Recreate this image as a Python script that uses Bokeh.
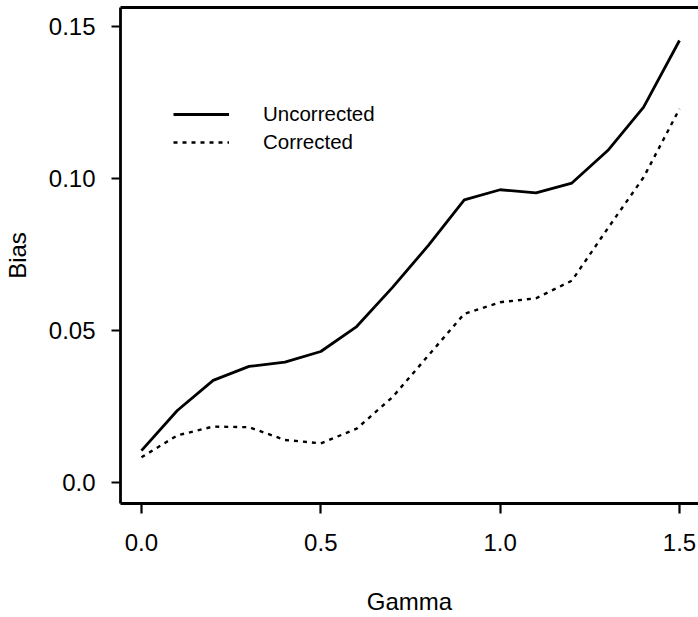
from bokeh.plotting import figure
from bokeh.models import Range1d, FixedTicker, Legend, LegendItem, LinearAxis
from bokeh.embed import file_html
from bokeh.resources import INLINE

# ---- data ----
gamma = [0.0, 0.1, 0.2, 0.3, 0.4, 0.5, 0.6, 0.7, 0.8, 0.9, 1.0, 1.1, 1.2, 1.3, 1.4, 1.5]
uncorrected = [0.0104, 0.0236, 0.0335, 0.0381, 0.0395, 0.0430, 0.0512, 0.0641,
               0.0779, 0.0929, 0.0962, 0.0952, 0.0984, 0.1091, 0.1234, 0.1453]
corrected = [0.0082, 0.0154, 0.0183, 0.0181, 0.0139, 0.0128, 0.0176, 0.0280,
             0.0417, 0.0554, 0.0592, 0.0605, 0.0663, 0.0835, 0.1003, 0.1228]

x_ticks = [0.0, 0.5, 1.0, 1.5]
x_tick_labels = ["0.0", "0.5", "1.0", "1.5"]
y_ticks = [0.0, 0.05, 0.10, 0.15]
y_tick_labels = ["0.0", "0.05", "0.10", "0.15"]

series_names = ["Uncorrected", "Corrected"]
x_title = "Gamma"
y_title = "Bias"

FONT = "Liberation Sans"
X_START, X_END = -0.0584, 1.553
Y_START, Y_END = -0.0070, 0.15615

p = figure(width=698, height=617,
           x_range=Range1d(X_START, X_END), y_range=Range1d(Y_START, Y_END),
           output_backend="svg", toolbar_location=None,
           min_border_left=119, min_border_right=0, min_border_top=7, min_border_bottom=114)
p.grid.visible = False
p.outline_line_color = None
p.background_fill_color = "white"
p.border_fill_color = "white"

r1 = p.line(gamma, uncorrected, line_color="black", line_width=2.8)
r2 = p.line(gamma, corrected, line_color="black", line_width=2.4, line_dash="4 5")

# axes
for ax in (p.xaxis[0], p.yaxis[0]):
    ax.axis_line_color = "black"
    ax.axis_line_width = 2.8
    ax.major_tick_line_color = "black"
    ax.major_tick_line_width = 2.2
    ax.major_tick_in = 0
    ax.minor_tick_in = 0
    ax.minor_tick_out = 0
    ax.major_label_text_font = FONT
    ax.major_label_text_font_size = "24px"
    ax.major_label_text_color = "black"
    ax.axis_label_text_font = FONT
    ax.axis_label_text_font_size = "24px"
    ax.axis_label_text_font_style = "normal"
    ax.axis_label_text_color = "black"

p.xaxis.ticker = FixedTicker(ticks=x_ticks)
p.xaxis.major_label_overrides = dict(zip(x_ticks, x_tick_labels))
p.xaxis.major_tick_out = 10
p.xaxis.major_label_standoff = 20
p.xaxis.axis_label = x_title
p.xaxis.axis_label_standoff = 34

p.yaxis.ticker = FixedTicker(ticks=y_ticks)
p.yaxis.major_label_overrides = dict(zip(y_ticks, y_tick_labels))
p.yaxis.major_tick_out = 9
p.yaxis.major_label_standoff = 16
p.yaxis.major_label_orientation = "horizontal"
p.yaxis.axis_label = y_title
p.yaxis.axis_label_standoff = 15

# top edge of the box: a bare axis line above the frame
top = LinearAxis(ticker=FixedTicker(ticks=[]), axis_line_color="black", axis_line_width=2.8,
                 major_tick_out=0, major_tick_in=0, minor_tick_out=0, minor_tick_in=0,
                 major_label_standoff=0, major_label_text_font_size="0px")
p.add_layout(top, "above")

legend = Legend(items=[LegendItem(label=series_names[0], renderers=[r1]),
                       LegendItem(label=series_names[1], renderers=[r2])],
                location=(53, 347), orientation="vertical",
                glyph_width=56, glyph_height=28, label_height=28,
                label_standoff=34, spacing=0, padding=0, margin=0,
                border_line_color=None, background_fill_alpha=0,
                label_text_font=FONT, label_text_font_size="20.5px",
                label_text_color="black")
p.add_layout(legend)

open("out.html", "w").write(file_html(p, INLINE))
